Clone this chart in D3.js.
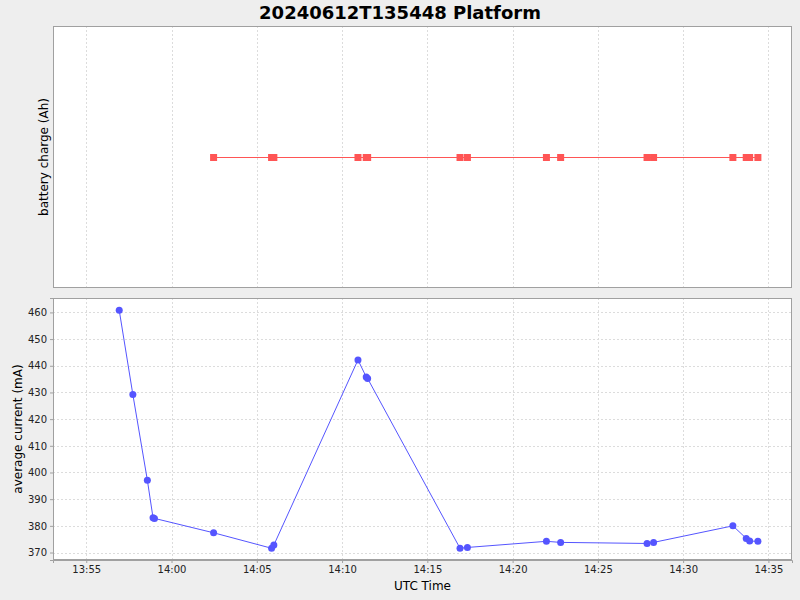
<!DOCTYPE html>
<html>
<head>
<meta charset="utf-8">
<script src="https://cdn.jsdelivr.net/npm/d3@7"></script>
<style>
  body { margin: 0; background: #eeeeee; }
  text { font-family: "DejaVu Sans", sans-serif; }
</style>
</head>
<body>
<script>
// Sample times (UTC, 2024-06-12)
var times = ["13:56:56", "13:57:44", "13:58:35", "13:58:55", "13:59:00", "14:02:28",
  "14:05:52", "14:06:00", "14:10:56", "14:11:25", "14:11:30", "14:16:55", "14:17:21",
  "14:21:59", "14:22:49", "14:27:53", "14:28:16", "14:32:55", "14:33:42", "14:33:54", "14:34:23"];

// average current (mA)
var current = [460.8, 429.2, 397.1, 383.0, 382.8, 377.4,
  371.6, 372.8, 442.2, 435.8, 435.2, 371.6, 371.9,
  374.2, 373.8, 373.4, 373.8, 380.0, 375.3, 374.3, 374.2];

// battery charge (Ah) - constant, missing for first samples
var battery = [null, null, null, null, null, 0,
  0, 0, 0, 0, 0, 0, 0,
  0, 0, 0, 0, 0, 0, 0, 0];

var currentTicks = [370, 380, 390, 400, 410, 420, 430, 440, 450, 460];
var timeTicks = ["13:55", "14:00", "14:05", "14:10", "14:15", "14:20", "14:25", "14:30", "14:35"];

function toDate(s) {
  var p = s.split(":").map(Number);
  return new Date(Date.UTC(2024, 5, 12, p[0], p[1], p[2] || 0));
}

var W = 800, H = 600;
var left = 53, right = 792;
var top1 = {y0: 26, y1: 288};
var top2 = {y0: 298, y1: 560};

var svg = d3.select("body").append("svg")
  .attr("width", W)
  .attr("height", H);

svg.append("rect").attr("width", W).attr("height", H).attr("fill", "#eeeeee");

// Title
svg.append("text")
  .attr("x", 400)
  .attr("y", 19)
  .attr("text-anchor", "middle")
  .style("font-size", "18px")
  .style("font-weight", "bold")
  .text("20240612T135448 Platform");

var x = d3.scaleUtc()
  .domain([toDate("13:53:03"), toDate("14:36:23")])
  .range([left, right]);

var y1 = d3.scaleLinear().domain([-1, 1]).range([top1.y1 + 0.5, top1.y0 + 0.5]);
var y2 = d3.scaleLinear().domain([367.2, 465.4]).range([top2.y1, top2.y0]);

var data = times.map(function(t, i) {
  return {t: toDate(t), cur: current[i], bat: battery[i]};
});

// plot backgrounds
[top1, top2].forEach(function(p) {
  svg.append("rect")
    .attr("x", left).attr("y", p.y0)
    .attr("width", right - left).attr("height", p.y1 - p.y0)
    .attr("fill", "white");
});

// vertical gridlines in both plots
[top1, top2].forEach(function(p) {
  svg.append("g").selectAll("line")
    .data(timeTicks)
    .enter().append("line")
      .attr("x1", function(d) { return Math.round(x(toDate(d))) + 0.5; })
      .attr("x2", function(d) { return Math.round(x(toDate(d))) + 0.5; })
      .attr("y1", p.y0).attr("y2", p.y1)
      .attr("stroke", "#dcdcdc")
      .attr("stroke-dasharray", "2,2");
});

// horizontal gridlines in bottom plot
svg.append("g").selectAll("line")
  .data(currentTicks)
  .enter().append("line")
    .attr("x1", left).attr("x2", right)
    .attr("y1", function(d) { return Math.round(y2(d)) + 0.5; })
    .attr("y2", function(d) { return Math.round(y2(d)) + 0.5; })
    .attr("stroke", "#dcdcdc")
    .attr("stroke-dasharray", "2,2");

// battery charge series
var batData = data.filter(function(d) { return d.bat !== null; });
svg.append("path")
  .datum(batData)
  .attr("fill", "none")
  .attr("stroke", "#ff5555")
  .attr("stroke-width", 1)
  .attr("d", d3.line()
    .x(function(d) { return x(d.t); })
    .y(function(d) { return y1(d.bat); }));

svg.append("g").selectAll("rect")
  .data(batData)
  .enter().append("rect")
    .attr("x", function(d) { return x(d.t) - 3.5; })
    .attr("y", function(d) { return y1(d.bat) - 3.5; })
    .attr("width", 7).attr("height", 7)
    .attr("fill", "#ff5555");

// average current series
svg.append("path")
  .datum(data)
  .attr("fill", "none")
  .attr("stroke", "#5555ff")
  .attr("stroke-width", 1)
  .attr("d", d3.line()
    .x(function(d) { return x(d.t); })
    .y(function(d) { return y2(d.cur); }));

svg.append("g").selectAll("circle")
  .data(data)
  .enter().append("circle")
    .attr("cx", function(d) { return x(d.t); })
    .attr("cy", function(d) { return y2(d.cur); })
    .attr("r", 3.5)
    .attr("fill", "#5555ff");

// plot outlines
[top1, top2].forEach(function(p) {
  svg.append("rect")
    .attr("x", left + 0.5).attr("y", p.y0 + 0.5)
    .attr("width", right - left - 1).attr("height", p.y1 - p.y0 - 1)
    .attr("fill", "none")
    .attr("stroke", "#a0a0a0");
});

// X axis (bottom)
var xAxis = svg.append("g")
  .attr("transform", "translate(0," + top2.y1 + ")")
  .call(d3.axisBottom(x)
    .tickValues(timeTicks.map(toDate))
    .tickFormat(d3.utcFormat("%H:%M"))
    .tickSize(3)
    .tickPadding(3));
xAxis.select(".domain").attr("stroke", "#a0a0a0");
xAxis.selectAll(".tick line").attr("stroke", "#a0a0a0");
xAxis.selectAll("text").style("font-size", "10px").attr("fill", "#222");

// Y axis (bottom plot)
var yAxis = svg.append("g")
  .attr("transform", "translate(" + left + ",0)")
  .call(d3.axisLeft(y2)
    .tickValues(currentTicks)
    .tickSize(3)
    .tickPadding(3));
yAxis.select(".domain").attr("stroke", "#a0a0a0");
yAxis.selectAll(".tick line").attr("stroke", "#a0a0a0");
yAxis.selectAll("text").style("font-size", "10px").attr("fill", "#222");

// axis labels
svg.append("text")
  .attr("transform", "translate(48," + ((top1.y0 + top1.y1) / 2) + ") rotate(-90)")
  .attr("text-anchor", "middle")
  .style("font-size", "12px")
  .text("battery charge (Ah)");

svg.append("text")
  .attr("transform", "translate(22," + ((top2.y0 + top2.y1) / 2) + ") rotate(-90)")
  .attr("text-anchor", "middle")
  .style("font-size", "12px")
  .text("average current (mA)");

svg.append("text")
  .attr("x", (left + right) / 2)
  .attr("y", 590)
  .attr("text-anchor", "middle")
  .style("font-size", "12px")
  .text("UTC Time");
</script>
</body>
</html>
